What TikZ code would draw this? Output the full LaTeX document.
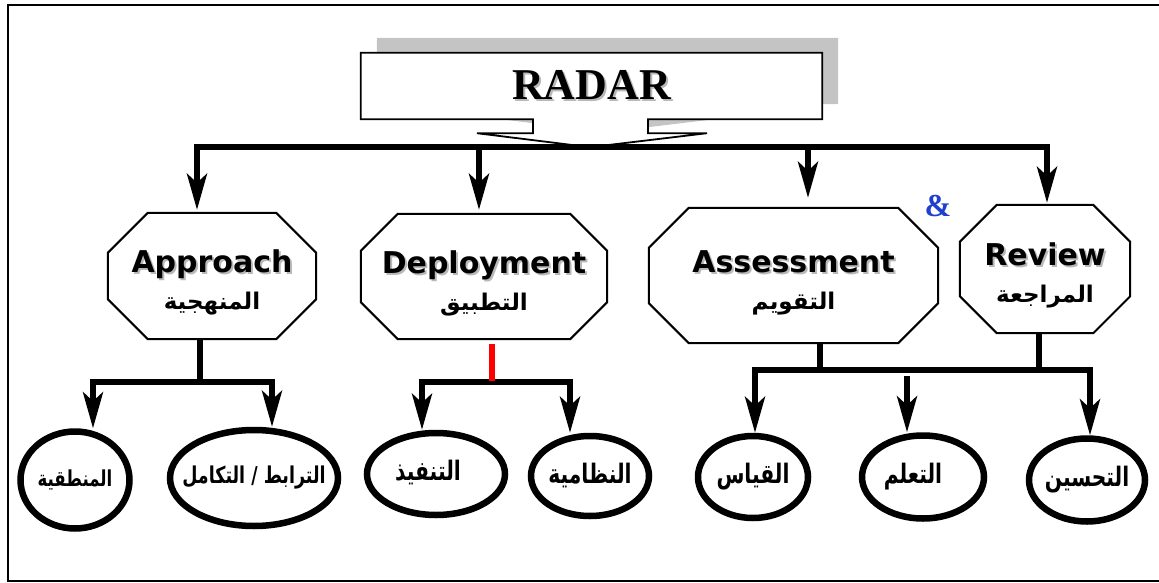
\documentclass[tikz,border=0pt]{standalone}
\usepackage{fontspec}
\setmainfont{DejaVu Sans}
\newfontfamily\arabicfont[Script=Arabic]{DejaVu Sans}
\newfontfamily\titlefont{Liberation Serif}
\usetikzlibrary{arrows.meta,calc,shapes.geometric}
\TeXXeTstate=1
\definecolor{amp}{HTML}{1F3FD0}
\definecolor{shadowgray}{HTML}{C4C4C4}
\pgfdeclarelayer{background}
\pgfsetlayers{background,main}
\newcommand{\shtext}[1]{\rule{0pt}{36pt}\makebox[0pt][l]{\hspace{2pt}\raisebox{-2pt}{\textcolor{gray!55}{#1}}}#1}
\newcommand{\artext}[1]{{\arabicfont\beginR #1\endR}}
\newcommand{\leaftext}[1]{\makebox[0pt]{\scalebox{0.92}[1.22]{\artext{#1}}}}

\begin{document}
\begin{tikzpicture}[x=1pt,y=-1pt,
      titlebox/.style={inner sep=0pt,minimum width=461pt,minimum height=66pt,
                       font=\titlefont\bfseries\fontsize{44}{48}\selectfont},
      callout/.style={insert path={(radar.north west) -- (radar.north east) -- (radar.south east)
                       -- ($(tip)+(58,-28)$) -- ($(tip)+(58,-14)$) -- ($(tip)+(117,-14)$) -- (tip)
                       -- ($(tip)+(-113,-14)$) -- ($(tip)+(-57,-14)$) -- ($(tip)+(-57,-28)$)
                       -- (radar.south west) -- cycle}},
      stage/.style={inner sep=0pt,align=center,font=\bfseries\fontsize{30}{34}\selectfont},
      octline/.style={draw=black,line width=2pt,line join=miter},
      leaf/.style={ellipse,draw=black,line width=6.5pt,inner sep=0pt,
                   font=\bfseries\fontsize{22}{26}\selectfont},
      bar/.style={line width=5.5pt},
      flow/.style={bar,-{Stealth[length=36pt,width=20pt,inset=9pt]}},
      border/.style={line width=2pt}]
    \useasboundingbox (0,0) rectangle (1159,583);
    \draw[border] (1161,5) -- (8,5) -- (8,581) -- (1161,581);
    \node[titlebox] (radar) at (591.5,86) {\makebox[0pt][l]{\hspace{2pt}\raisebox{-2pt}{\textcolor{gray!55}{RADAR}}}RADAR};
    \coordinate (tip) at ($(radar.south)+(-1.5,28)$);
    \begin{pgfonlayer}{background}
      \fill[shadowgray,transform canvas={xshift=16pt,yshift=15pt},callout];
      \draw[line width=1.8pt,fill=white,callout];
    \end{pgfonlayer}
    \node[stage,minimum width=208pt,minimum height=126pt] (app) at (212,276)
      {\shtext{Approach}\\[3pt]{\fontsize{23}{26}\selectfont\artext{المنهجية}}};
    \node[stage,minimum width=246pt,minimum height=125pt] (dep) at (484,276.5)
      {\shtext{Deployment}\\[3pt]{\fontsize{23}{26}\selectfont\artext{التطبيق}}};
    \node[stage,minimum width=289pt,minimum height=135pt] (ass) at (793.5,275.5)
      {\shtext{Assessment}\\[3pt]{\fontsize{23}{26}\selectfont\artext{التقويم}}};
    \node[stage,minimum width=170pt,minimum height=128pt] (rev) at (1045,269)
      {\shtext{Review}\\[3pt]{\fontsize{23}{26}\selectfont\artext{المراجعة}}};
    \foreach \n/\c in {app/40,dep/37,ass/40,rev/37}
      \draw[octline] ($(\n.north west)+(\c,0)$) -- ($(\n.north east)+(-\c,0)$)
        -- ($(\n.north east)+(0,\c)$) -- ($(\n.south east)+(0,-\c)$)
        -- ($(\n.south east)+(-\c,0)$) -- ($(\n.south west)+(\c,0)$)
        -- ($(\n.south west)+(0,-\c)$) -- ($(\n.north west)+(0,\c)$) -- cycle;
    \node[font=\titlefont\bfseries\fontsize{32}{34}\selectfont,text=amp] (and) at (938,206) {\&};
    \draw[flow] (tip) -| ($(app.north)+(-15,-3)$);
    \draw[flow] (tip) -| ($(dep.north)+(-5,-4)$);
    \draw[flow] (tip) -| ($(ass.north)+(14.5,-10)$);
    \draw[flow] (tip) -| ($(rev.north)+(2,-2)$);
    \node[leaf,minimum width=109pt,minimum height=97pt,font=\bfseries\fontsize{18}{22}\selectfont] (e1) at (75,480) {\leaftext{المنطقية}};
    \node[leaf,minimum width=168pt,minimum height=96pt,font=\bfseries\fontsize{19}{22}\selectfont] (e2) at (254,478) {\raisebox{4pt}{\leaftext{الترابط / التكامل}}};
    \node[leaf,minimum width=138pt,minimum height=82pt] (e3) at (436,474) {\raisebox{7pt}{\hspace*{-16pt}\leaftext{التنفيذ}}};
    \node[leaf,minimum width=118pt,minimum height=80pt] (e4) at (590,476) {\raisebox{3pt}{\leaftext{النظامية}}};
    \node[leaf,minimum width=110pt,minimum height=82pt] (e5) at (753,477) {\leaftext{القياس}};
    \node[leaf,minimum width=122pt,minimum height=83pt] (e6) at (923,477) {\hspace*{-20pt}\leaftext{التعلم}};
    \node[leaf,minimum width=116pt,minimum height=83pt] (e7) at (1087,480) {\leaftext{التحسين}};
    \coordinate (aj) at (200,382);
    \draw[bar] (app.south -| aj) -- (aj);
    \draw[flow] (aj) -| ($(e1.north)+(18,0)$);
    \draw[flow] (aj) -| ($(e2.north)+(18,0)$);
    \coordinate (dj) at (492,382);
    \draw[flow] (dj) -| ($(e3.north)+(-14,0)$);
    \draw[flow] (dj) -| ($(e4.north)+(-20,0)$);
    \draw[bar,red] ($(dep.south -| dj)+(0,5)$) -- ($(dj)+(0,-1)$);
    \coordinate (rj) at (820,370);
    \draw[bar] (ass.south -| rj) -- (rj);
    \draw[flow] (rj) -| ($(e5.north)+(2,0)$);
    \draw[flow] (rj) -| ($(e7.north)+(3,0)$);
    \draw[bar] ($(rev.south)+(-6,0)$) -- ($(rev.south |- rj)+(-6,0)$);
    \draw[flow] ($(e6.north |- rj)+(-16,6)$) -- ($(e6.north)+(-16,0)$);
\end{tikzpicture}
\end{document}
